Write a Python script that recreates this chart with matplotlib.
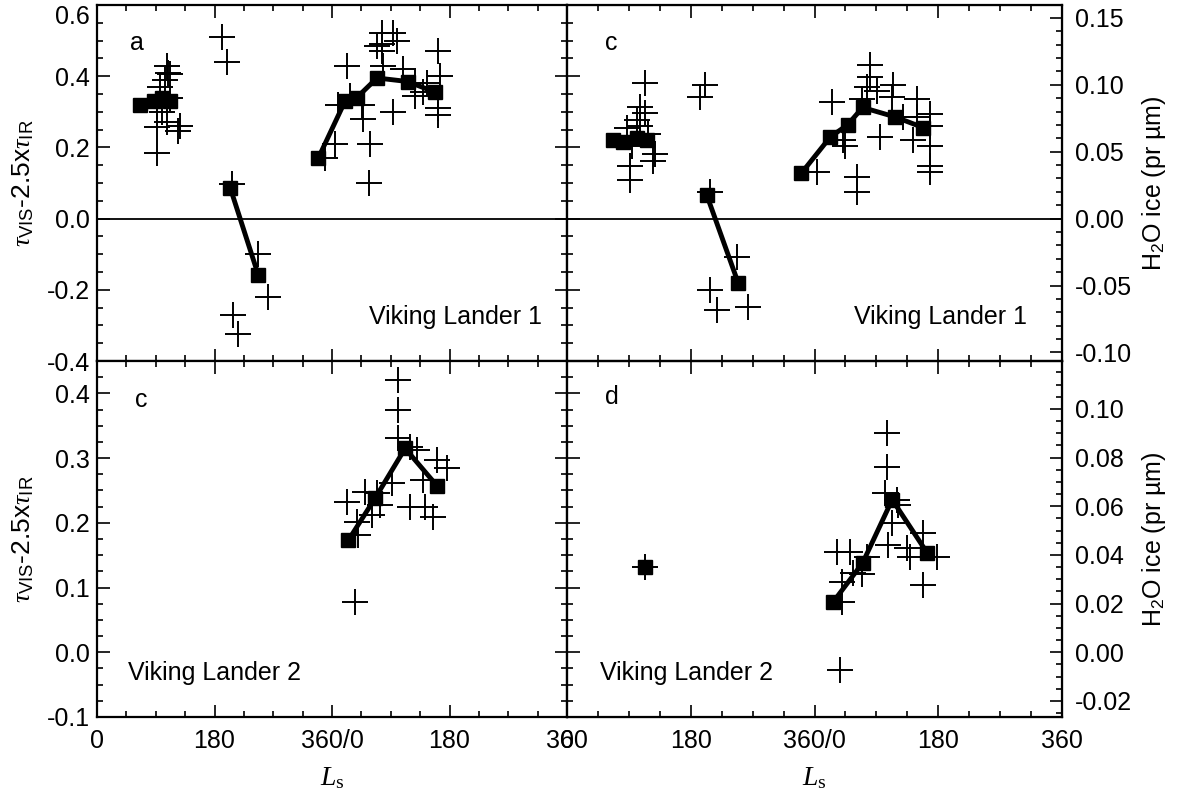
import matplotlib
matplotlib.use("Agg")
import matplotlib.pyplot as plt
from matplotlib.ticker import MultipleLocator, FixedLocator, FixedFormatter, FormatStrFormatter

plt.rcParams["font.family"] = ["Liberation Sans", "DejaVu Sans"]
plt.rcParams["mathtext.fontset"] = "custom"
plt.rcParams["mathtext.rm"] = "Liberation Serif"
plt.rcParams["mathtext.it"] = "Liberation Serif:italic"
plt.rcParams["mathtext.sf"] = "Liberation Sans"

# Ls runs over two Mars years (0-720) on every panel
# ---- Viking Lander 1 : tau_vis - 2.5 tau_ir ----
vl1_idx_ls = [92, 97, 100, 104, 107, 109, 112, 112, 92, 107, 124, 127, 92,
              191, 199, 207, 247, 262, 208, 216,
              349, 365, 383, 369, 388, 406, 408, 418, 417, 453, 437, 437, 437,
              438, 460, 453, 469, 487, 487, 522, 525, 522, 522, 506, 500, 429]
vl1_idx_val = [0.315, 0.37, 0.30, 0.39, 0.43, 0.41, 0.405, 0.34, 0.256, 0.27, 0.245, 0.26, 0.183,
               0.51, 0.44, 0.096, -0.10, -0.22, -0.27, -0.325,
               0.17, 0.21, 0.43, 0.32, 0.345, 0.32, 0.28, 0.21, 0.10, 0.30, 0.52, 0.49, 0.47,
               0.43, 0.50, 0.52, 0.42, 0.38, 0.345, 0.47, 0.40, 0.31, 0.29, 0.38, 0.355, 0.485]
vl1_idx_avg_ls = [[66, 88, 100, 112], [204, 247], [339, 380, 398, 429, 476, 518]]
vl1_idx_avg = [[0.32, 0.33, 0.34, 0.33], [0.087, -0.158], [0.17, 0.33, 0.34, 0.395, 0.385, 0.355]]

# ---- Viking Lander 1 : H2O ice (pr um) ----
vl1_ice_ls = [114, 106, 114, 102, 87, 106, 118, 128, 125, 92, 92, 95,
              200, 194, 208, 247, 208, 218, 263,
              363, 386, 401, 405, 422, 422, 441, 441, 436, 429, 455, 474, 473,
              509, 509, 503, 528, 528, 528, 528, 528, 451, 489]
vl1_ice_val = [0.101, 0.083, 0.079, 0.074, 0.068, 0.069, 0.063, 0.048, 0.043, 0.039, 0.029, 0.054,
               0.100, 0.091, 0.020, -0.029, -0.053, -0.068, -0.066,
               0.035, 0.087, 0.059, 0.054, 0.031, 0.020, 0.115, 0.106, 0.098, 0.089, 0.061, 0.100, 0.091,
               0.089, 0.076, 0.059, 0.078, 0.069, 0.054, 0.039, 0.035, 0.095, 0.076]
vl1_ice_avg_ls = [[67, 81, 102, 116], [203, 249], [341, 383, 408, 430, 477, 518]]
vl1_ice_avg = [[0.059, 0.057, 0.060, 0.059], [0.018, -0.048], [0.034, 0.061, 0.070, 0.083, 0.076, 0.068]]

# ---- Viking Lander 2 : tau_vis - 2.5 tau_ir ----
vl2_idx_ls = [395, 383, 398, 400, 411, 421, 429, 434, 452, 461, 461, 461,
              480, 490, 480, 500, 502, 515, 521, 536]
vl2_idx_val = [0.077, 0.232, 0.201, 0.181, 0.248, 0.212, 0.246, 0.227, 0.261, 0.374, 0.42, 0.331,
               0.317, 0.312, 0.224, 0.266, 0.224, 0.209, 0.297, 0.284]
vl2_idx_avg_ls = [[385, 426, 472, 521]]
vl2_idx_avg = [[0.173, 0.238, 0.315, 0.257]]

# ---- Viking Lander 2 : H2O ice (pr um) ----
vl2_ice_ls = [113, 465, 465, 462, 480, 481, 473, 467, 495, 499, 518, 538, 518,
              392, 411, 400, 400, 429, 436, 416, 397]
vl2_ice_val = [0.035, 0.090, 0.076, 0.0655, 0.0627, 0.0606, 0.053, 0.044, 0.043, 0.039, 0.049, 0.039, 0.0276,
               0.041, 0.041, 0.029, 0.0206, 0.032, 0.039, 0.0326, -0.0074]
vl2_ice_avg_ls = [[113], [387, 430, 473, 524]]
vl2_ice_avg = [[0.035], [0.0206, 0.0367, 0.0627, 0.0408]]

ice_scale = 3.76  # index units per pr um of ice
ls_ticks = [0, 180, 360, 540, 720]
ls_labels = ["0", "180", "360/0", "180", "360"]

fig = plt.figure(figsize=(11.77, 7.9), dpi=100)
W, H = 1177, 790


def box(x0, y0, x1, y1):
    return [x0 / W, 1 - y1 / H, (x1 - x0) / W, (y1 - y0) / H]


ax_a = fig.add_axes(box(97, 5, 567, 361))
ax_c = fig.add_axes(box(567, 5, 1062, 361))
ax_b = fig.add_axes(box(97, 361, 567, 717))
ax_d = fig.add_axes(box(567, 361, 1062, 717))

top_lim = (-0.4, 0.6)
bot_lim = (-0.1, 0.45)


def style(ax, ylim, major, minor, left_labels):
    ax.set_xlim(0, 720)
    ax.set_ylim(*ylim)
    ax.xaxis.set_major_locator(FixedLocator(ls_ticks))
    ax.xaxis.set_major_formatter(FixedFormatter(ls_labels))
    ax.xaxis.set_minor_locator(MultipleLocator(45))
    ax.yaxis.set_major_locator(MultipleLocator(major))
    ax.yaxis.set_minor_locator(MultipleLocator(minor))
    ax.yaxis.set_major_formatter(FormatStrFormatter("%.1f"))
    ax.tick_params(which="both", direction="in", top=True, right=left_labels,
                   left=True, labelleft=left_labels, width=1.2, labelsize=18)
    ax.tick_params(axis="y", pad=5)
    ax.tick_params(axis="x", pad=9)
    ax.tick_params(which="major", length=9)
    ax.tick_params(which="minor", length=4.5)
    for s in ax.spines.values():
        s.set_linewidth(1.6)


def draw(ax, ls, val, avg_ls, avg):
    ax.plot(ls, val, ls="none", marker="+", ms=19, mew=1.4, color="black")
    for xs, ys in zip(avg_ls, avg):
        ax.plot(xs, ys, color="black", lw=3.5, marker="s", ms=10)


style(ax_a, top_lim, 0.2, 0.05, True)
style(ax_b, bot_lim, 0.1, 0.025, True)
style(ax_c, top_lim, 0.2, 0.05, False)
style(ax_d, bot_lim, 0.1, 0.025, False)
ax_a.tick_params(labelbottom=False)
ax_c.tick_params(labelbottom=False)

# ice axes on the right-hand panels
tw_c = ax_c.twinx()
tw_d = ax_d.twinx()
for tw, lim, major, minor in [(tw_c, top_lim, 0.05, 0.01), (tw_d, bot_lim, 0.02, 0.005)]:
    tw.set_ylim(lim[0] / ice_scale, lim[1] / ice_scale)
    tw.yaxis.set_major_locator(MultipleLocator(major))
    tw.yaxis.set_minor_locator(MultipleLocator(minor))
    tw.yaxis.set_major_formatter(FormatStrFormatter("%.2f"))
    tw.tick_params(which="both", direction="in", width=1.2, labelsize=18, pad=9)
    tw.tick_params(which="major", length=9)
    tw.tick_params(which="minor", length=4.5)
    tw.set_ylabel(r"H$_\mathsf{2}$O ice (pr µm)", fontsize=18, labelpad=6)

ax_a.axhline(0, color="black", lw=1.3)
ax_c.axhline(0, color="black", lw=1.3)

draw(ax_a, vl1_idx_ls, vl1_idx_val, vl1_idx_avg_ls, vl1_idx_avg)
draw(tw_c, vl1_ice_ls, vl1_ice_val, vl1_ice_avg_ls, vl1_ice_avg)
draw(ax_b, vl2_idx_ls, vl2_idx_val, vl2_idx_avg_ls, vl2_idx_avg)
draw(tw_d, vl2_ice_ls, vl2_ice_val, vl2_ice_avg_ls, vl2_ice_avg)

ylab = r"$\tau_{\mathsf{VIS}}$-2.5x$\tau_{\mathsf{IR}}$"
ax_a.set_ylabel(ylab, fontsize=19, labelpad=8)
ax_b.set_ylabel(ylab, fontsize=19, labelpad=8)
ax_b.set_xlabel(r"$L_\mathrm{s}$", fontsize=20, labelpad=8)
ax_d.set_xlabel(r"$L_\mathrm{s}$", fontsize=20, labelpad=8)

for ax, letter, x, y in [(ax_a, "a", 0.07, 0.893), (ax_c, "c", 0.077, 0.893),
                         (ax_b, "c", 0.08, 0.89), (ax_d, "d", 0.077, 0.9)]:
    ax.text(x, y, letter, transform=ax.transAxes, fontsize=18, va="center")
ax_a.text(0.947, 0.124, "Viking Lander 1", transform=ax_a.transAxes, fontsize=18,
          ha="right", va="center")
ax_c.text(0.929, 0.124, "Viking Lander 1", transform=ax_c.transAxes, fontsize=18,
          ha="right", va="center")
for ax in (ax_b, ax_d):
    ax.text(0.066, 0.124, "Viking Lander 2", transform=ax.transAxes, fontsize=18,
            ha="left", va="center")

# keep the topmost index label inside the figure
fig.canvas.draw()
for lab in ax_a.get_yticklabels():
    if lab.get_text() == "0.6":
        lab.set_va("top")

fig.savefig("out.png", dpi=100)
